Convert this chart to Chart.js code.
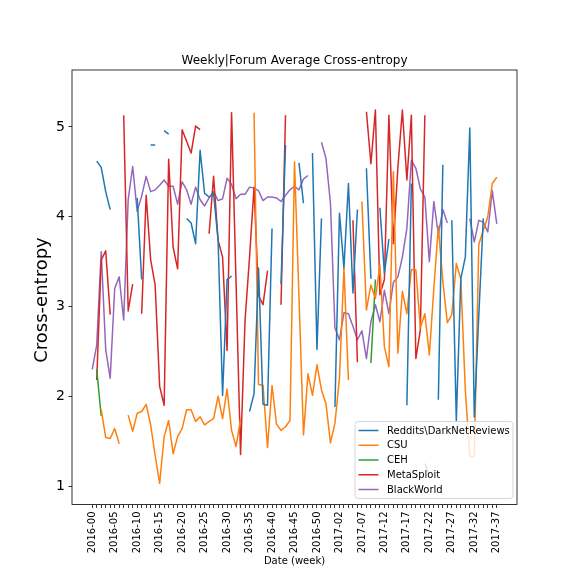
<!DOCTYPE html>
<html><head><meta charset="utf-8">
<script src="https://cdn.jsdelivr.net/npm/chart.js@4.4.1/dist/chart.umd.min.js"></script>
<style>html,body{margin:0;padding:0;background:#fff}#wrap{width:576px;height:576px}</style>
</head><body><div id="wrap"><canvas id="c" width="576" height="576"></canvas></div>
<script>
const weeks = [
 '2016-00','2016-01','2016-02','2016-03','2016-04','2016-05','2016-06','2016-07','2016-08','2016-09',
 '2016-10','2016-11','2016-12','2016-13','2016-14','2016-15','2016-16','2016-17','2016-18','2016-19',
 '2016-20','2016-21','2016-22','2016-23','2016-24','2016-25','2016-26','2016-27','2016-28','2016-29',
 '2016-30','2016-31','2016-32','2016-33','2016-34','2016-35','2016-36','2016-37','2016-38','2016-39',
 '2016-40','2016-41','2016-42','2016-43','2016-44','2016-45','2016-46','2016-47','2016-48','2016-49',
 '2016-50','2016-51','2016-52','2017-00','2017-01','2017-02','2017-03','2017-04','2017-05','2017-06',
 '2017-07','2017-08','2017-09','2017-10','2017-11','2017-12','2017-13','2017-14','2017-15','2017-16',
 '2017-17','2017-18','2017-19','2017-20','2017-21','2017-22','2017-23','2017-24','2017-25','2017-26',
 '2017-27','2017-28','2017-29','2017-30','2017-31','2017-32','2017-33','2017-34','2017-35','2017-36',
 '2017-37'];

const reddits = [
 null,4.62,4.55,4.28,4.08,null,null,null,null,null,
 4.21,3.30,null,4.80,4.80,null,4.96,4.92,null,null,
 null,3.98,3.93,3.70,4.74,4.26,4.22,4.26,3.74,2.01,
 3.30,3.34,null,null,null,1.83,2.03,3.43,1.91,1.90,
 3.87,null,3.25,4.80,null,null,4.60,4.15,null,4.71,
 2.52,3.98,null,null,1.88,4.04,3.43,4.37,3.15,4.08,
 null,4.54,3.31,null,4.10,3.37,3.75,null,null,null,
 1.90,4.37,null,null,null,null,null,1.96,4.58,null,
 3.96,1.73,3.31,3.55,4.99,1.77,2.90,3.98,null,null,
 null];

const csu = [
 null,null,1.85,1.54,1.53,1.64,1.47,null,1.79,1.61,
 1.81,1.83,1.91,1.68,1.34,1.03,1.55,1.73,1.36,1.55,
 1.64,1.85,1.85,1.72,1.77,1.68,1.72,1.75,2.00,1.75,
 2.08,1.62,1.44,1.75,null,null,5.16,2.13,2.12,1.43,
 2.12,1.69,1.62,1.66,1.73,4.61,3.10,1.57,2.25,2.01,
 2.35,2.07,1.92,1.48,1.70,2.20,3.43,2.18,null,null,
 4.17,2.96,3.24,3.09,3.46,2.55,2.33,4.50,2.48,3.17,
 2.92,3.41,3.41,2.76,2.92,2.46,3.20,3.89,3.28,2.82,
 2.91,3.48,3.31,2.07,1.33,1.33,3.69,3.85,4.00,4.37,
 4.44];

const ceh = [
 null,2.30,1.78,null,null,null,null,null,null,null,
 null,null,null,null,null,null,null,null,null,null,
 null,null,null,null,null,null,null,null,null,null,
 null,null,null,null,null,null,null,null,null,null,
 null,null,null,null,null,null,null,null,null,null,
 null,null,null,null,null,null,null,null,null,null,
 null,null,2.37,3.30,null,null,null,null,null,null,
 null,null,null,null,1.25,1.12,null,null,null,null,
 null,null,null,null,null,null,null,null,null,null,
 null];

const metasploit = [
 null,2.18,3.52,3.62,2.91,null,null,5.13,2.95,3.25,
 null,2.92,4.24,3.52,3.24,2.11,1.90,4.64,3.66,3.42,
 4.97,4.84,4.71,5.01,4.97,null,3.81,4.45,3.74,3.55,
 2.51,5.16,3.26,1.35,2.85,3.55,4.33,3.12,3.02,3.40,
 null,null,3.02,5.13,null,null,null,null,null,null,
 null,null,null,null,null,null,null,null,3.96,2.38,
 null,5.17,4.59,5.19,3.13,3.30,5.13,3.70,4.55,5.19,
 4.41,5.13,2.42,2.74,5.13,null,null,null,null,null,
 null,null,null,null,null,null,null,null,null,null,
 null];

const blackworld = [
 2.30,2.57,3.61,2.52,2.20,3.20,3.33,2.85,4.19,4.56,
 4.06,4.23,4.45,4.28,4.30,4.35,4.41,4.34,4.34,4.14,
 4.39,4.30,4.14,4.33,4.19,4.12,4.21,4.28,4.18,4.20,
 4.43,4.36,4.20,4.25,4.25,4.33,4.32,4.29,4.18,4.22,
 4.22,4.21,4.17,4.24,4.30,4.34,4.30,4.42,4.46,null,
 null,4.83,4.65,4.15,2.76,2.63,2.93,2.92,2.78,2.63,
 2.73,2.42,2.83,3.02,2.83,3.18,2.92,3.27,3.33,3.55,
 3.87,4.63,4.54,4.31,4.22,3.50,4.17,3.80,4.08,3.93,
 null,null,null,null,3.98,3.72,3.96,3.94,3.83,4.29,
 3.92];

const yTicks = [1, 2, 3, 4, 5];
const seriesNames = ['Reddits\\DarkNetReviews', 'CSU', 'CEH', 'MetaSploit', 'BlackWorld'];
const seriesColors = ['#1f77b4', '#ff7f0e', '#2ca02c', '#d62728', '#9467bd'];
const chartTitle = 'Weekly|Forum Average Cross-entropy';
const xTitle = 'Date (week)';
const yTitle = 'Cross-entropy';

const FONT = 'DejaVu Sans';
const allSeries = [reddits, csu, ceh, metasploit, blackworld];

const datasets = allSeries.map((arr, k) => ({
  label: seriesNames[k],
  data: arr.map((v, i) => ({x: i, y: v})),
  borderColor: seriesColors[k],
  backgroundColor: seriesColors[k],
  borderWidth: 1.5,
  pointRadius: 0,
  pointHoverRadius: 0,
  tension: 0,
  spanGaps: false,
  fill: false,
  borderJoinStyle: 'round',
  borderCapStyle: 'butt'
}));

const decor = {
  id: 'decor',
  afterDatasetsDraw(chart) {
    const {ctx, chartArea: a} = chart;
    ctx.save();
    ctx.strokeStyle = '#000';
    ctx.lineWidth = 0.8;
    ctx.strokeRect(a.left, a.top, a.right - a.left, a.bottom - a.top);
    const bw = 158, bh = 77;
    const bx = a.right - 4 - bw, by = a.bottom - 6 - bh;
    const r = 3;
    ctx.beginPath();
    ctx.moveTo(bx + r, by);
    ctx.lineTo(bx + bw - r, by);
    ctx.quadraticCurveTo(bx + bw, by, bx + bw, by + r);
    ctx.lineTo(bx + bw, by + bh - r);
    ctx.quadraticCurveTo(bx + bw, by + bh, bx + bw - r, by + bh);
    ctx.lineTo(bx + r, by + bh);
    ctx.quadraticCurveTo(bx, by + bh, bx, by + bh - r);
    ctx.lineTo(bx, by + r);
    ctx.quadraticCurveTo(bx, by, bx + r, by);
    ctx.closePath();
    ctx.fillStyle = 'rgba(255,255,255,0.8)';
    ctx.fill();
    ctx.strokeStyle = 'rgba(204,204,204,0.8)';
    ctx.lineWidth = 1;
    ctx.stroke();
    ctx.font = '10px "' + FONT + '"';
    ctx.textAlign = 'left';
    ctx.textBaseline = 'middle';
    seriesNames.forEach((name, k) => {
      const yy = by + 9 + k * 14.75;
      ctx.strokeStyle = seriesColors[k];
      ctx.lineWidth = 1.5;
      ctx.beginPath();
      ctx.moveTo(bx + 3.5, yy);
      ctx.lineTo(bx + 23.5, yy);
      ctx.stroke();
      ctx.fillStyle = '#000';
      ctx.fillText(name, bx + 32, yy + 0.5);
    });
    ctx.fillStyle = '#000';
    ctx.font = '12px "' + FONT + '"';
    ctx.textAlign = 'center';
    ctx.textBaseline = 'alphabetic';
    ctx.fillText(chartTitle, (a.left + a.right) / 2, a.top - 6);
    // y axis title
    ctx.save();
    ctx.translate(42, 300);
    ctx.rotate(-Math.PI / 2);
    ctx.font = '18px "' + FONT + '"';
    ctx.textAlign = 'center';
    ctx.textBaseline = 'middle';
    ctx.fillText(yTitle, 0, 0);
    ctx.restore();
    ctx.restore();
  }
};

const tickGrid = {display: true, drawOnChartArea: false, drawTicks: true, tickLength: 3.5, color: '#000', lineWidth: 0.8};

new Chart(document.getElementById('c'), {
  type: 'line',
  data: {datasets},
  options: {
    responsive: false,
    animation: false,
    devicePixelRatio: 1,
    layout: {padding: {left: 0, right: 59, top: 70, bottom: 0}},
    plugins: {legend: {display: false}, title: {display: false}, tooltip: {enabled: false}},
    scales: {
      x: {
        type: 'linear',
        min: -4.5, max: 94.5,
        afterBuildTicks: ax => { ax.ticks = weeks.map((w, i) => ({value: i})); },
        afterFit: ax => { ax.height = 71.5; },
        ticks: {
          autoSkip: false, maxRotation: 90, minRotation: 90, padding: 3.5, color: '#000',
          font: {family: FONT, size: 10},
          callback: v => (Number.isInteger(v) && v % 5 === 0 ? weeks[v] : '')
        },
        grid: tickGrid,
        border: {display: false},
        title: {display: true, text: xTitle, color: '#000', font: {family: FONT, size: 10}, padding: {top: 0, bottom: 9}}
      },
      y: {
        type: 'linear',
        min: 0.794, max: 5.635,
        afterBuildTicks: ax => { ax.ticks = yTicks.map(v => ({value: v})); },
        afterFit: ax => { ax.width = 72; },
        ticks: {padding: 3.5, color: '#000', font: {family: FONT, size: 14}, callback: v => String(v)},
        grid: tickGrid,
        border: {display: false},
        title: {display: false}
      }
    }
  },
  plugins: [decor]
});
</script>
</body></html>
